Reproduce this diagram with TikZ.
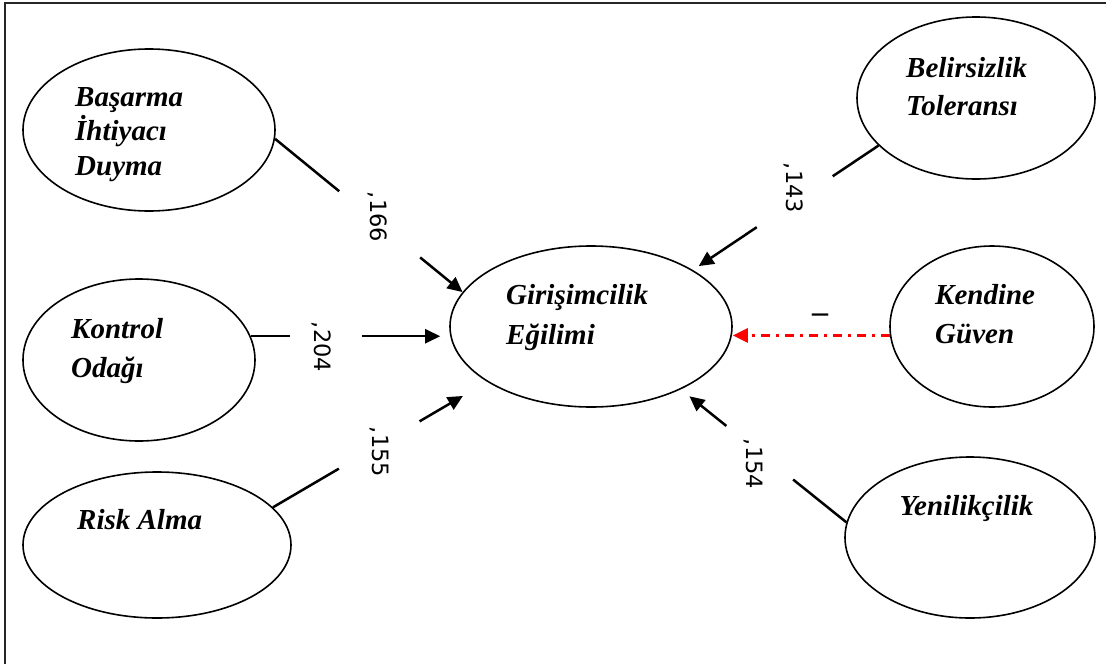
\documentclass[tikz,border=0pt]{standalone}
\usepackage{fontspec}
\setmainfont{Liberation Serif}
\newfontfamily\lblfont{DejaVu Sans}
\usetikzlibrary{shapes.geometric,arrows.meta,calc}
\begin{document}
\begin{tikzpicture}[x=1pt,y=-1pt,
  oval/.style={draw, ellipse, line width=1.6pt, inner sep=0pt},
  txt/.style={inner sep=0pt, anchor=base west, font=\fontsize{29}{38}\selectfont\bfseries\itshape},
  conn/.style={line width=2.5pt},
  connarrow/.style={conn, -{Triangle[length=15pt,width=14pt]}},
  redconn/.style={draw=red, line width=2.5pt, dash pattern=on 9pt off 6pt on 3pt off 6pt, -{Triangle[length=15pt,width=14pt,fill=red]}},
  coef/.style={inner sep=0pt, rotate=-90, font=\lblfont\fontsize{22.5}{26}\selectfont},
]
\useasboundingbox (0,0) rectangle (1106,664);
\draw[line width=2pt, black!85] (5,664) -- (5,3) -- (1106,3);

% ellipses
\node[oval, minimum width=252pt, minimum height=162pt] (basarma) at (149,130) {};
\node[oval, minimum width=232pt, minimum height=162pt] (kontrol) at (139,360) {};
\node[oval, minimum width=268pt, minimum height=146pt] (risk) at (157,545) {};
\node[oval, minimum width=282pt, minimum height=161pt] (g) at (591,326.5) {};
\node[oval, minimum width=238pt, minimum height=162pt] (belir) at (976,98) {};
\node[oval, minimum width=204pt, minimum height=161pt] (kendine) at (992,326.5) {};
\node[oval, minimum width=250pt, minimum height=161pt] (yenilik) at (970,537.5) {};

% texts
\node[txt, font=\fontsize{29}{34.5}\selectfont\bfseries\itshape] (basarmaT) at (75,106) {\vtop{\hbox{Başarma}\hbox{İhtiyacı}\hbox{Duyma}}};
\node[txt, font=\fontsize{29}{39}\selectfont\bfseries\itshape] (kontrolT) at (71,338) {\vtop{\hbox{Kontrol}\hbox{Odağı}}};
\node[txt] (riskT) at (77,529) {Risk Alma};
\node[txt, font=\fontsize{29}{40}\selectfont\bfseries\itshape] (gT) at (506,304) {\vtop{\hbox{Girişimcilik}\hbox{Eğilimi}}};
\node[txt] (belirT) at (906,77) {\vtop{\hbox{Belirsizlik}\hbox{Toleransı}}};
\node[txt, font=\fontsize{29}{39}\selectfont\bfseries\itshape] (kendineT) at (935,304) {\vtop{\hbox{Kendine}\hbox{Güven}}};
\node[txt] (yenilikT) at (899.5,515) {Yenilikçilik};

% connectors
\path (basarma.-4) -- coordinate[pos=0.342] (a1) coordinate[pos=0.774] (a2) (g.165);
\draw[conn] (basarma.-4) -- (a1);
\draw[connarrow] (a2) -- (g.165);

\path (kontrol.12.8) -- coordinate[pos=0.198] (b1) coordinate[pos=0.562] (b2) (kontrol.12.8 -| g.west);
\draw[conn] (kontrol.12.8) -- (b1);
\draw[connarrow, shorten >=9pt] (b2) -- (b2 -| g.west);

\path (risk.18) -- coordinate[pos=0.308] (r1) coordinate[pos=0.685] (r2) (g.208.5);
\draw[conn] (risk.18) -- (r1);
\draw[connarrow, shorten >=28pt] (r2) -- (g.208.5);

\path (belir.206.1) -- coordinate[pos=0.247] (t1) coordinate[pos=0.656] (t2) (g.29.3);
\draw[conn] (belir.206.1) -- (t1);
\draw[connarrow, shorten >=7pt] (t2) -- (g.29.3);

\path (yenilik.173.3) -- coordinate[pos=0.322] (y1) coordinate[pos=0.725] (y2) (g.-35.8);
\draw[conn] (yenilik.173.3) -- (y1);
\draw[connarrow, shorten >=11pt] (y2) -- (g.-35.8);

\draw[redconn] (kendine.185.4) -- (kendine.185.4 -| g.east);

% coefficients
\node[coef] (l166) at (378,217) {,166};
\node[coef] (l204) at (322,347) {,204};
\node[coef] (l155) at (379,452) {,155};
\node[coef] (l143) at (793.5,188) {,143};
\node[coef] (l154) at (753.5,464) {,154};
\node[inner sep=0pt, anchor=base, font=\fontsize{32}{36}\selectfont\bfseries] (minus) at (820,322) {–};
\end{tikzpicture}
\end{document}
